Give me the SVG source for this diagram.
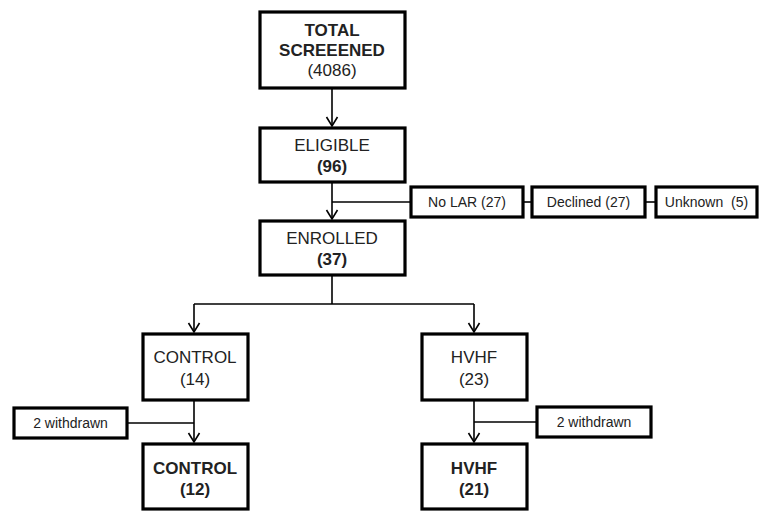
<svg xmlns="http://www.w3.org/2000/svg" width="760" height="511" viewBox="0 0 760 511">
<defs>
<marker id="arr" markerUnits="userSpaceOnUse" markerWidth="14" markerHeight="14" viewBox="0 0 14 14" refX="12" refY="7" orient="auto">
<path d="M3,1.5 L12,7 L3,12.5" fill="none" stroke="#000" stroke-width="1.6"/>
</marker>
<style>
.box{fill:#fff;stroke:#000;stroke-width:3.2}
.t{font-family:"Liberation Sans",Arial,sans-serif;font-size:17px;fill:#222;text-anchor:middle}
.s{font-family:"Liberation Sans",Arial,sans-serif;font-size:14px;fill:#222;text-anchor:middle}
.b{font-weight:bold}
.ln{fill:none;stroke:#000;stroke-width:1.6}
</style>
</defs>
<rect width="760" height="511" fill="#fff"/>
<g id="connectors">
<line class="ln" x1="332" y1="89" x2="332" y2="126" marker-end="url(#arr)"/>
<line class="ln" x1="332" y1="183" x2="332" y2="219" marker-end="url(#arr)"/>
<line class="ln" x1="332" y1="202" x2="411" y2="202"/>
<line class="ln" x1="523" y1="202" x2="532" y2="202"/>
<line class="ln" x1="645" y1="202" x2="656" y2="202"/>
<polyline class="ln" points="332,276 332,304"/>
<polyline class="ln" points="194,304 474,304"/>
<line class="ln" x1="194" y1="304" x2="194" y2="332" marker-end="url(#arr)"/>
<line class="ln" x1="474" y1="304" x2="474" y2="332" marker-end="url(#arr)"/>
<line class="ln" x1="194" y1="401" x2="194" y2="442" marker-end="url(#arr)"/>
<line class="ln" x1="127" y1="423" x2="194" y2="423"/>
<line class="ln" x1="474" y1="401" x2="474" y2="442" marker-end="url(#arr)"/>
<line class="ln" x1="474" y1="422" x2="537" y2="422"/>
</g>
<g id="total">
<rect class="box" x="260" y="12" width="145" height="76"/>
<text class="t b" x="332" y="36">TOTAL</text>
<text class="t b" x="332" y="56">SCREEENED</text>
<text class="t" x="332" y="76">(4086)</text>
</g>
<g id="eligible">
<rect class="box" x="260" y="128" width="145" height="54"/>
<text class="t" x="332" y="151">ELIGIBLE</text>
<text class="t b" x="332" y="172">(96)</text>
</g>
<g id="nolar">
<rect class="box" x="411" y="187" width="112" height="30"/>
<text class="s" x="467" y="207">No LAR (27)</text>
</g>
<g id="declined">
<rect class="box" x="532" y="187" width="113" height="30"/>
<text class="s" x="588.5" y="207">Declined (27)</text>
</g>
<g id="unknown">
<rect class="box" x="656" y="187" width="101" height="30"/>
<text class="s" x="706.5" y="207">Unknown&#160; (5)</text>
</g>
<g id="enrolled">
<rect class="box" x="260" y="221" width="145" height="54"/>
<text class="t" x="332" y="244">ENROLLED</text>
<text class="t b" x="332" y="265">(37)</text>
</g>
<g id="control">
<rect class="box" x="143" y="334" width="105" height="66"/>
<text class="t" x="195" y="363">CONTROL</text>
<text class="t" x="195" y="385">(14)</text>
</g>
<g id="hvhf">
<rect class="box" x="422" y="334" width="105" height="66"/>
<text class="t" x="474" y="363">HVHF</text>
<text class="t" x="474" y="385">(23)</text>
</g>
<g id="withdrawn-left">
<rect class="box" x="14" y="408" width="113" height="30"/>
<text class="s" x="70.5" y="428">2 withdrawn</text>
</g>
<g id="withdrawn-right">
<rect class="box" x="537" y="407" width="114" height="30"/>
<text class="s" x="594" y="427">2 withdrawn</text>
</g>
<g id="control-final">
<rect class="box" x="143" y="444" width="105" height="65"/>
<text class="t b" x="195" y="474">CONTROL</text>
<text class="t b" x="195" y="495">(12)</text>
</g>
<g id="hvhf-final">
<rect class="box" x="422" y="444" width="105" height="65"/>
<text class="t b" x="474" y="474">HVHF</text>
<text class="t b" x="474" y="495">(21)</text>
</g>
</svg>
